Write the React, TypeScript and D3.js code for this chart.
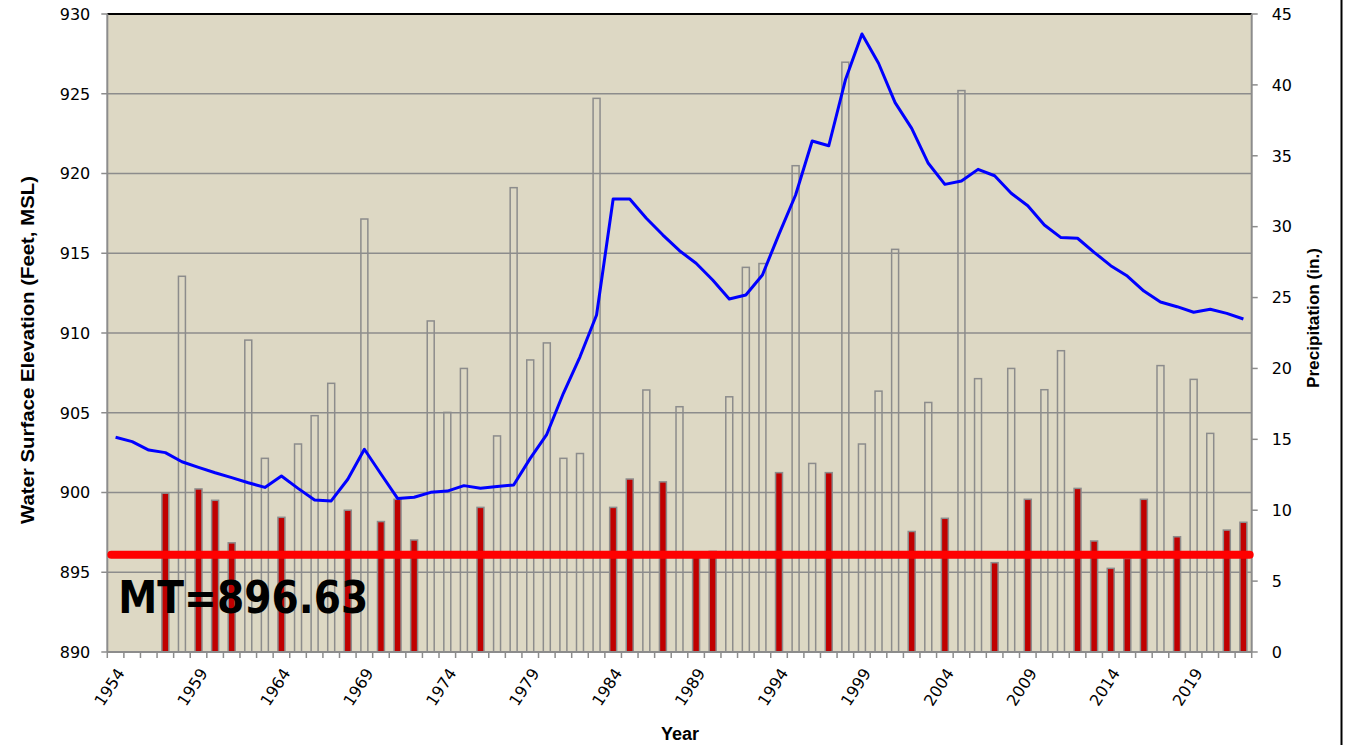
import React from 'react';
import * as d3 from 'd3';

// Lake level (blue line, left axis) against annual precipitation (bars, right axis).
// Bars under DRY_LIMIT inches are drawn solid red, the rest as hollow outlines.

const W = 1345;
const H = 745;
const LEFT = 107.3;
const RIGHT = 1251.7;
const TOP = 14;
const BOTTOM = 652;

const years: number[] = d3.range(1954, 2023);

// water surface elevation, feet MSL (one value per year, 1954..2022)
const elevation: number[] = [
  903.46, 903.19, 902.66, 902.5, 901.93, 901.58, 901.24, 900.93, 900.61, 900.32,
  901.03, 900.26, 899.53, 899.47, 900.83, 902.71, 901.16, 899.63, 899.7, 900.01,
  900.09, 900.43, 900.26, 900.37, 900.47, 902.14, 903.65, 906.22, 908.51, 911.13,
  918.4, 918.4, 917.19, 916.14, 915.16, 914.37, 913.32, 912.13, 912.38, 913.64,
  916.2, 918.65, 922.04, 921.74, 925.86, 928.75, 926.91, 924.44, 922.83, 920.64,
  919.32, 919.53, 920.26, 919.86, 918.76, 917.98, 916.77, 915.98, 915.94, 915.06,
  914.22, 913.57, 912.63, 911.94, 911.65, 911.3, 911.49, 911.23, 910.88,
];

// annual precipitation, inches (null = no record for that year)
const precipitation: (number | null)[] = [
  null, null, null, 11.2, 26.5, 11.5, 10.7, 7.7, 22.0, 13.66,
  9.5, 14.67, 16.67, 18.95, 10.0, 30.54, 9.2, 10.77, 7.9, 23.35,
  16.9, 20.0, 10.2, 15.24, 32.75, 20.6, 21.8, 13.66, 14.0, 39.05,
  10.2, 12.2, 18.48, 12.0, 17.3, 6.8, 7.1, 18.0, 27.13, 27.4,
  12.65, 34.3, 13.3, 12.65, 41.6, 14.67, 18.4, 28.4, 8.5, 17.6,
  9.43, 39.6, 19.28, 6.3, 20.0, 10.77, 18.5, 21.25, 11.54, 7.83,
  5.9, 6.6, 10.77, 20.2, 8.13, 19.23, 15.42, 8.6, 9.15,
];

const DRY_LIMIT = 13;
const leftTicks: number[] = [890, 895, 900, 905, 910, 915, 920, 925, 930];
const rightTicks: number[] = [0, 5, 10, 15, 20, 25, 30, 35, 40, 45];
const labelYears: number[] = d3.range(1954, 2023, 5);

const MT_LABEL = 'MT=896.63';
const MT_LINE_LEVEL = 896.1; // level where the red line sits in the source picture

const BG = '#ddd8c4';
const GRID = '#8c8c8c';
const TICK_FONT = 'DejaVu Sans, Verdana, sans-serif';
const TITLE_FONT = 'Liberation Sans, Arial, sans-serif';

export default function App() {
  const x = d3.scaleBand<number>().domain(years).range([LEFT, RIGHT]);
  const yL = d3.scaleLinear().domain([890, 930]).range([BOTTOM, TOP]);
  const yR = d3.scaleLinear().domain([0, 45]).range([BOTTOM, TOP]);
  const cx = (yr: number) => (x(yr) ?? 0) + x.bandwidth() / 2;
  const barW = x.bandwidth() * 0.42;

  const line = d3
    .line<number>()
    .x((_, i) => cx(years[i]))
    .y((v) => yL(v));

  return (
    <svg
      width={W}
      height={H}
      style={{ position: 'absolute', left: 0, top: 0, background: '#fff' }}
    >
      <rect x={LEFT} y={TOP} width={RIGHT - LEFT} height={BOTTOM - TOP} fill={BG} />

      {/* horizontal grid on the elevation ticks */}
      {leftTicks.slice(1, -1).map((t) => (
        <line key={t} x1={LEFT} x2={RIGHT} y1={yL(t)} y2={yL(t)} stroke={GRID} strokeWidth={1.5} />
      ))}

      {/* precipitation bars */}
      {years.map((yr, i) => {
        const p = precipitation[i];
        if (p == null) return null;
        const dry = p < DRY_LIMIT;
        return (
          <rect
            key={yr}
            x={cx(yr) - barW / 2}
            y={yR(p)}
            width={barW}
            height={BOTTOM - yR(p)}
            fill={dry ? '#c00000' : 'none'}
            stroke={GRID}
            strokeWidth={1.5}
          />
        );
      })}

      {/* elevation line */}
      <path d={line(elevation) ?? ''} fill="none" stroke="#0000ff" strokeWidth={3} strokeLinejoin="round" />

      {/* frame */}
      <line x1={LEFT} x2={RIGHT} y1={TOP} y2={TOP} stroke="#000" strokeWidth={2} />
      <line x1={LEFT} x2={LEFT} y1={TOP} y2={BOTTOM} stroke={GRID} strokeWidth={2} />
      <line x1={RIGHT} x2={RIGHT} y1={TOP} y2={BOTTOM} stroke={GRID} strokeWidth={2} />
      <line x1={LEFT} x2={RIGHT} y1={BOTTOM} y2={BOTTOM} stroke={GRID} strokeWidth={2} />

      {/* left axis */}
      {leftTicks.map((t) => (
        <g key={t}>
          <line x1={LEFT - 6} x2={LEFT} y1={yL(t)} y2={yL(t)} stroke={GRID} strokeWidth={1.5} />
          <text x={LEFT - 17} y={yL(t)} dy="0.36em" textAnchor="end" fontSize={16} fontFamily={TICK_FONT}>
            {t}
          </text>
        </g>
      ))}

      {/* right axis */}
      {rightTicks.map((t) => (
        <g key={t}>
          <line x1={RIGHT} x2={RIGHT + 6} y1={yR(t)} y2={yR(t)} stroke={GRID} strokeWidth={1.5} />
          <text x={RIGHT + 20} y={yR(t)} dy="0.36em" textAnchor="start" fontSize={16} fontFamily={TICK_FONT}>
            {t}
          </text>
        </g>
      ))}

      {/* category ticks and rotated year labels */}
      {years.concat([2023]).map((yr, i) => {
        const bx = LEFT + i * x.step();
        return <line key={yr} x1={bx} x2={bx} y1={BOTTOM} y2={BOTTOM + 6} stroke={GRID} strokeWidth={1.5} />;
      })}
      {labelYears.map((yr) => (
        <text
          key={yr}
          transform={`translate(${cx(yr) + 5},${BOTTOM + 18}) rotate(-57)`}
          textAnchor="end"
          dy="0.35em"
          fontSize={16}
          fontFamily={TICK_FONT}
        >
          {yr}
        </text>
      ))}

      {/* MT reference line */}
      <line
        x1={LEFT + 4}
        x2={RIGHT - 2}
        y1={yL(MT_LINE_LEVEL)}
        y2={yL(MT_LINE_LEVEL)}
        stroke="#ff0000"
        strokeWidth={8}
        strokeLinecap="round"
      />
      <text
        x={LEFT + 11}
        y={yL(MT_LINE_LEVEL) + 58}
        fontSize={45}
        fontWeight="bold"
        fontFamily="DejaVu Sans, sans-serif"
        textLength={250}
        lengthAdjust="spacingAndGlyphs"
      >
        {MT_LABEL}
      </text>

      {/* axis titles */}
      <text
        transform={`translate(34,350) rotate(-90)`}
        textAnchor="middle"
        fontSize={19}
        fontWeight="bold"
        fontFamily={TITLE_FONT}
        textLength={348}
        lengthAdjust="spacingAndGlyphs"
      >
        Water Surface Elevation (Feet, MSL)
      </text>
      <text
        transform={`translate(1319,318) rotate(-90)`}
        textAnchor="middle"
        fontSize={17}
        fontWeight="bold"
        fontFamily={TITLE_FONT}
        textLength={140}
        lengthAdjust="spacingAndGlyphs"
      >
        Precipitation (in.)
      </text>
      <text x={680} y={740} textAnchor="middle" fontSize={18} fontWeight="bold" fontFamily={TITLE_FONT}>
        Year
      </text>

      {/* page edge line on the right */}
      <line x1={1341.5} x2={1341.5} y1={0} y2={H} stroke="#000" strokeWidth={2} />
    </svg>
  );
}
